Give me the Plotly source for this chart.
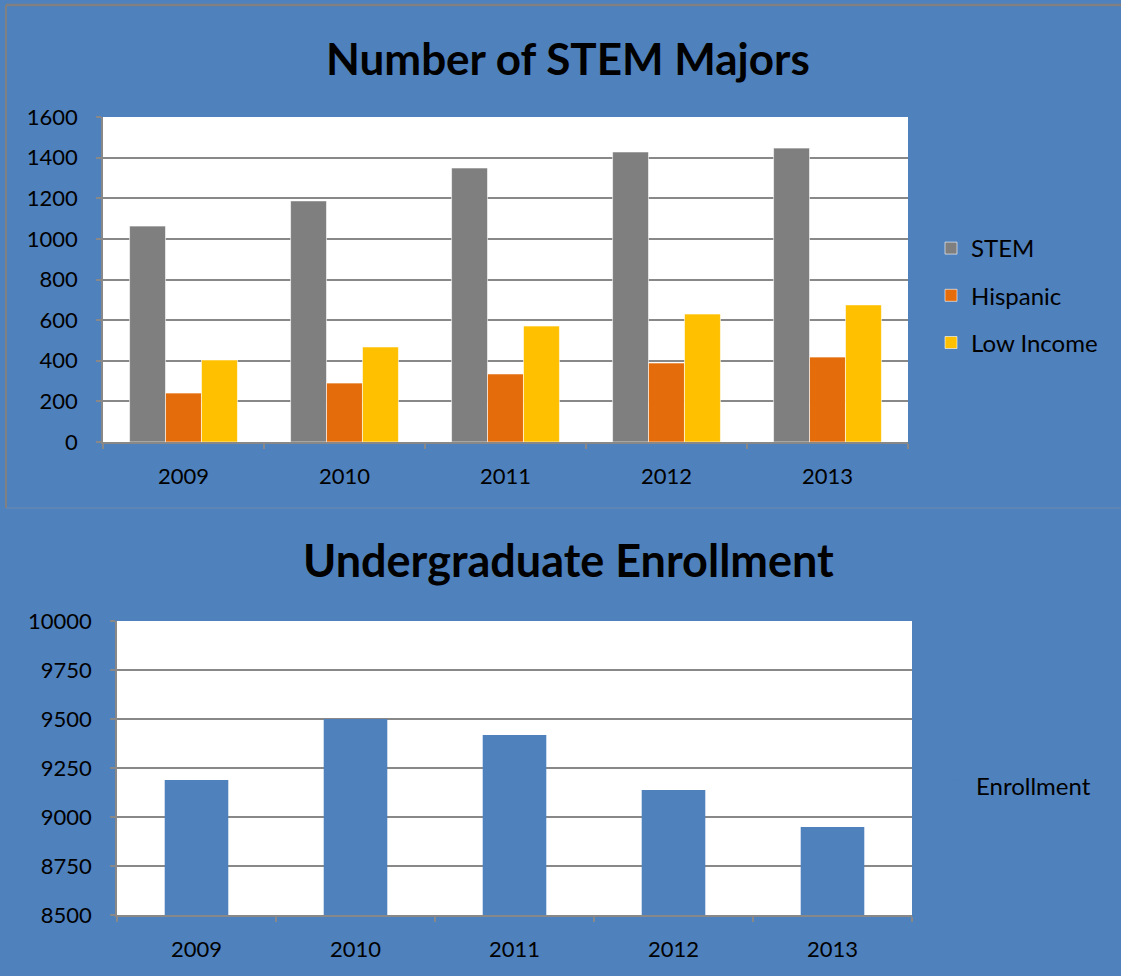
import plotly.graph_objects as go

years = ["2009", "2010", "2011", "2012", "2013"]
stem = [1063, 1187, 1349, 1428, 1447]
hispanic = [241, 290, 335, 389, 418]
low_income = [404, 468, 571, 630, 675]
enrollment = [9189, 9500, 9418, 9138, 8949]

W, H = 1121, 976
BG = "#4F81BD"
GRID = "#888888"
FONT = "Lato"

def px(x):
    return x / W

def py(y):
    return 1 - y / H

fig = go.Figure()

bar_line = dict(color="rgba(255,255,255,0.6)", width=1)
fig.add_trace(go.Bar(x=years, y=stem, name="STEM", marker=dict(color="#7F7F7F", line=bar_line),
                     xaxis="x", yaxis="y", legend="legend", legendgroup="a"))
fig.add_trace(go.Bar(x=years, y=hispanic, name="Hispanic", marker=dict(color="#E46C0A", line=bar_line),
                     xaxis="x", yaxis="y", legend="legend", legendgroup="b"))
fig.add_trace(go.Bar(x=years, y=low_income, name="Low Income", marker=dict(color="#FFC000", line=bar_line),
                     xaxis="x", yaxis="y", legend="legend", legendgroup="c"))
fig.add_trace(go.Bar(x=years, y=enrollment, name="Enrollment", marker=dict(color=BG, line=dict(width=0)),
                     xaxis="x2", yaxis="y2", legend="legend2", width=0.4))

axis_common = dict(showline=True, linecolor=GRID, linewidth=1.5, ticks="outside", ticklen=5,
                   tickcolor=GRID, tickwidth=1.5, automargin=False,
                   tickfont=dict(family=FONT, size=22, color="black"))

fig.update_layout(
    width=W, height=H,
    margin=dict(l=0, r=0, t=0, b=0, autoexpand=False),
    paper_bgcolor=BG,
    plot_bgcolor="white",
    barmode="group",
    bargap=0.33,
    bargroupgap=0,
    font=dict(family=FONT, color="black"),
    xaxis=dict(domain=[px(103), px(908)], anchor="y", tickson="boundaries", ticklabelstandoff=14, **axis_common),
    yaxis=dict(domain=[py(442), py(117)], anchor="x", range=[0, 1600], dtick=200, tickformat="d",
               showgrid=True, gridcolor=GRID, gridwidth=1.5, ticklabelstandoff=14, **axis_common),
    xaxis2=dict(domain=[px(117), px(912)], anchor="y2", tickson="boundaries", ticklabelstandoff=14, **axis_common),
    yaxis2=dict(domain=[py(915), py(621)], anchor="x2", range=[8500, 10000], dtick=250, tickformat="d",
                showgrid=True, gridcolor=GRID, gridwidth=1.5, ticklabelstandoff=14, **axis_common),
    legend=dict(x=px(931), y=py(226), xanchor="left", yanchor="top", bgcolor="rgba(0,0,0,0)",
                font=dict(family=FONT, size=24, color="black"), tracegroupgap=13,
                traceorder="grouped"),
    legend2=dict(x=px(936), y=py(764), xanchor="left", yanchor="top", bgcolor="rgba(0,0,0,0)",
                 font=dict(family=FONT, size=24, color="black")),
    annotations=[
        dict(text="<b>Number of STEM Majors</b>", x=px(568), y=py(58), xref="paper", yref="paper",
             showarrow=False, font=dict(family=FONT, size=44, color="black"), xanchor="center", yanchor="middle"),
        dict(text="<b>Undergraduate Enrollment</b>", x=px(568), y=py(560), xref="paper", yref="paper",
             showarrow=False, font=dict(family=FONT, size=45, color="black"), xanchor="center", yanchor="middle"),
    ],
    shapes=[
        dict(type="line", xref="paper", yref="paper", x0=px(6), x1=1, y0=py(5), y1=py(5),
             line=dict(color="#808080", width=2.5)),
        dict(type="line", xref="paper", yref="paper", x0=px(6), x1=px(6), y0=py(5), y1=py(508),
             line=dict(color="#808080", width=2)),
        dict(type="line", xref="paper", yref="paper", x0=px(6), x1=1, y0=py(508), y1=py(508),
             line=dict(color="#6F88AC", width=1)),
    ],
)

fig.write_html("out.html", config={"displayModeBar": False},
               post_script="document.body.style.margin='0';document.body.style.overflow='hidden';")
